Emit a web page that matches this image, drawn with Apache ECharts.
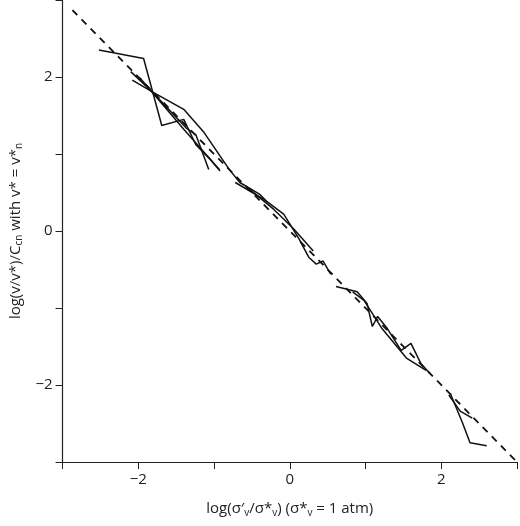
<!DOCTYPE html>
<html><head><meta charset="utf-8">
<script src="https://cdn.jsdelivr.net/npm/echarts@6/dist/echarts.min.js"></script>
<style>html,body{margin:0;padding:0;background:#fff}#c{width:520px;height:526px}</style>
</head><body><div id="c"></div>
<script>
const fitLine = [[-2.87, 2.87], [3, -3]];
const curve1 = [[-2.52,2.35],[-1.93,2.24],[-1.69,1.37],[-1.40,1.45],[-1.24,1.12],[-1.05,0.93],[-0.92,0.78]];
const curve2 = [[-2.10,2.07],[-1.82,1.81],[-1.40,1.58],[-1.14,1.29],[-0.80,0.80],[-0.66,0.63],[-0.40,0.48],[-0.31,0.39]];
const curve3 = [[-2.08,1.96],[-1.82,1.81],[-1.37,1.34],[-1.24,1.25],[-1.07,0.80]];
const curve4 = [[-1.98,1.99],[-1.40,1.32],[-0.93,0.80]];
const curve5 = [[-0.72,0.63],[-0.34,0.41],[-0.08,0.22],[0.12,-0.10],[0.25,-0.34],[0.35,-0.43],[0.44,-0.39],[0.54,-0.56]];
const curve6 = [[-0.53,0.54],[-0.21,0.28],[0.05,0.03],[0.31,-0.26]];
const curve7 = [[0.61,-0.72],[0.89,-0.79],[1.02,-0.94],[1.09,-1.24],[1.16,-1.11],[1.29,-1.27],[1.47,-1.55],[1.60,-1.46],[1.73,-1.72],[1.86,-1.86]];
const curve8 = [[0.83,-0.79],[0.98,-0.90],[1.22,-1.27],[1.54,-1.65],[1.80,-1.81]];
const curve9 = [[2.10,-2.13],[2.25,-2.34],[2.41,-2.43]];
const curve10 = [[2.12,-2.11],[2.28,-2.49],[2.38,-2.75],[2.60,-2.79]];
const curves = [curve1,curve2,curve3,curve4,curve5,curve6,curve7,curve8,curve9,curve10];
const tickLabels = {'-2':'−2','0':'0','2':'2'};

const font = 'Open Sans';
const axisCommon = {
  min:-3, max:3, interval:1,
  axisLine:{show:true,onZero:false,lineStyle:{color:'#222',width:1.2}},
  axisTick:{show:true,length:7,lineStyle:{color:'#222'}},
  splitLine:{show:false},
  axisLabel:{fontFamily:font,fontSize:15,color:'#222',margin:10,
    formatter:v=>tickLabels[String(v)]||''}
};
const series = curves.map(c=>({type:'line',data:c,symbol:'none',
  lineStyle:{color:'#111',width:1.5},z:3}));
series.push({type:'line',data:fitLine,symbol:'none',
  lineStyle:{color:'#111',width:1.8,type:[7,6]},z:2});
const chart = echarts.init(document.getElementById('c'));
chart.setOption({
  animation:false,
  grid:{left:55,right:2,top:0,bottom:64},
  xAxis:Object.assign({},axisCommon,{type:'value',
    name:'{n|log(σ′}{s|v}{n|/σ*}{s|v}{n|) (σ*}{s|v}{n| = 1 atm)}',
    nameLocation:'middle',nameGap:38,
    nameTextStyle:{rich:{n:{fontFamily:font,fontSize:15,color:'#222'},s:{fontFamily:font,fontSize:10,color:'#222',padding:[8,0,0,0]}}}}),
  yAxis:Object.assign({},axisCommon,{type:'value',
    name:'{n|log(v/v*)/C}{s|cn}{n| with v* = v*}{s|n}',
    nameLocation:'middle',nameGap:36,
    nameTextStyle:{rich:{n:{fontFamily:font,fontSize:15,color:'#222'},s:{fontFamily:font,fontSize:10,color:'#222',padding:[8,0,0,0]}}}}),
  series
});
</script></body></html>
